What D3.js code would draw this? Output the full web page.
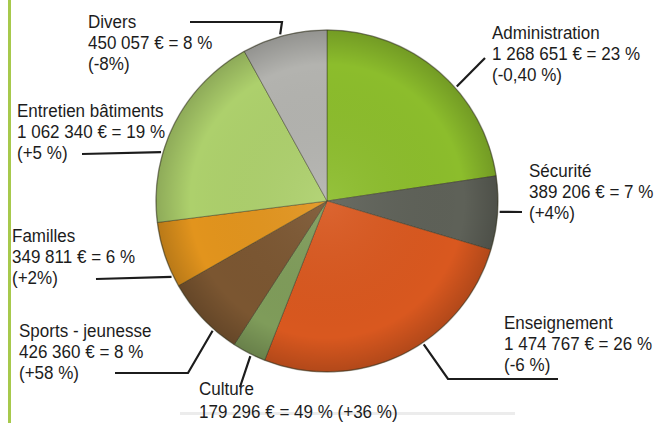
<!DOCTYPE html>
<html>
  <head>
    <meta charset="utf-8" />
    <title>Répartition des dépenses</title>
    <style>
      body { margin: 0; background: #fff; }
      svg text { font-family: "Liberation Sans", Arial, sans-serif; font-size: 18.5px; fill: #1c1c1c; }
    </style>
  </head>
  <body>
    <div id="plot"></div>

    <script src="https://cdn.jsdelivr.net/npm/d3@7"></script>
    <script>
      // data (clockwise from 12 o'clock)
      const categories = ["Administration", "Sécurité", "Enseignement", "Culture",
        "Sports - jeunesse", "Familles", "Entretien bâtiments", "Divers"];
      const amounts = [1268651, 389206, 1474767, 179296, 426360, 349811, 1062340, 450057];
      const shares = ["23 %", "7 %", "26 %", "49 %", "8 %", "6 %", "19 %", "8 %"];
      const changes = ["(-0,40 %)", "(+4%)", "(-6 %)", "(+36 %)", "(+58 %)", "(+2%)", "(+5 %)", "(-8%)"];
      const colors = ["#8cbd2c", "#5e6158", "#d9581f", "#7f9c5a", "#7b5631", "#e2941d", "#add06c", "#b3b3af"];

      // layout of the labels: text anchor x, first baseline y,
      // leader: angle on the pie (deg) then elbow points
      const labelLayout = [
        { x: 492, y: 39, angle: 48.6, path: [[485, 58]] },
        { x: 529, y: 177, angle: 93.6, path: [[522, 212]] },
        { x: 504, y: 329, angle: 146, path: [[448, 379], [558, 379]] },
        { x: 199, y: 395, angle: 206.3, path: [[240, 387]], oneLine: true },
        { x: 19, y: 337, angle: 221.4, path: [[188, 373], [115, 373]] },
        { x: 12, y: 242, angle: 244, path: [[96, 279]] },
        { x: 17, y: 117, angle: 286.4, path: [[82, 154]] },
        { x: 88, y: 28, angle: 344.3, path: [[282, 22], [190, 22]] }
      ];

      const width = 658, height = 423;
      const cx = 327, cy = 201, radius = 171;
      const lineH = 21;
      const squeeze = 0.92; // the original type is a bit condensed

      const fmt = d3.formatLocale({ decimal: ",", thousands: " ", grouping: [3], currency: ["", " €"] }).format(",d");

      const svg = d3.select("#plot")
        .append("svg")
        .attr("width", width)
        .attr("height", height);

      const defs = svg.append("defs");
      const grad = defs.append("radialGradient").attr("id", "shade")
        .attr("cx", "50%").attr("cy", "50%").attr("r", "50%");
      grad.append("stop").attr("offset", "0%").attr("stop-color", "#fff").attr("stop-opacity", 0.08);
      grad.append("stop").attr("offset", "80%").attr("stop-color", "#000").attr("stop-opacity", 0.0);
      grad.append("stop").attr("offset", "100%").attr("stop-color", "#000").attr("stop-opacity", 0.18);

      // green rule on the left and faint grey line at the bottom
      svg.append("rect").attr("x", 8).attr("y", 0).attr("width", 3).attr("height", height).attr("fill", "#a7c94c");
      svg.append("rect").attr("x", 180).attr("y", 412).attr("width", 335).attr("height", 3).attr("fill", "#ececec");

      const pie = d3.pie().sort(null).value(d => d)(amounts);
      const arc = d3.arc().innerRadius(0).outerRadius(radius);

      const g = svg.append("g").attr("transform", `translate(${cx},${cy})`);

      g.selectAll("path.slice")
        .data(pie)
        .join("path")
        .attr("class", "slice")
        .attr("d", arc)
        .attr("fill", (d, i) => colors[i])
        .attr("stroke", "rgba(50,50,30,0.45)")
        .attr("stroke-width", 1);

      g.append("circle")
        .attr("r", radius)
        .attr("fill", "url(#shade)")
        .attr("stroke", "rgba(60,60,40,0.35)")
        .attr("stroke-width", 1.5);

      // leader lines
      const rad = Math.PI / 180;
      labelLayout.forEach((l, i) => {
        const r = radius + 2;
        const start = [cx + r * Math.sin(l.angle * rad), cy - r * Math.cos(l.angle * rad)];
        svg.append("path")
          .attr("d", d3.line()([start, ...l.path]))
          .attr("fill", "none")
          .attr("stroke", "#1c1c1c")
          .attr("stroke-width", 2.2);
      });

      // labels
      labelLayout.forEach((l, i) => {
        const t = svg.append("text")
          .attr("transform", `translate(${l.x},${l.y}) scale(${squeeze},1)`);
        const second = `${fmt(amounts[i])} € = ${shares[i]}`;
        t.append("tspan").attr("x", 0).text(categories[i]);
        if (l.oneLine) {
          t.append("tspan").attr("x", 0).attr("dy", lineH + 2).text(`${second} ${changes[i]}`);
        } else {
          t.append("tspan").attr("x", 0).attr("dy", lineH).text(second);
          t.append("tspan").attr("x", 0).attr("dy", lineH).text(changes[i]);
        }
      });
    </script>
  </body>
</html>
